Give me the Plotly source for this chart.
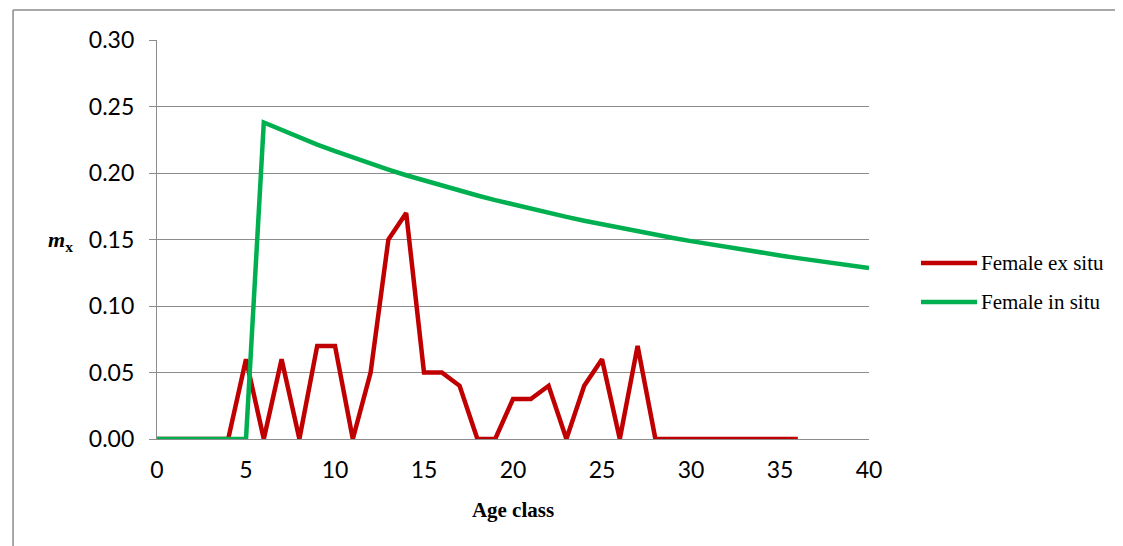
import plotly.graph_objects as go

age_ex = list(range(0, 37))
mx_ex = [0, 0, 0, 0, 0, 0.06, 0, 0.06, 0, 0.07, 0.07, 0, 0.05, 0.15, 0.17,
         0.05, 0.05, 0.04, 0, 0, 0.03, 0.03, 0.04, 0, 0.04, 0.06, 0, 0.07,
         0, 0, 0, 0, 0, 0, 0, 0, 0]

age_in = list(range(0, 41))
mx_in = [0, 0, 0, 0, 0, 0, 0.2380, 0.2322, 0.2267, 0.2214, 0.2164, 0.2116, 0.2070,
         0.2026, 0.1983, 0.1943, 0.1904, 0.1867, 0.1831, 0.1796, 0.1763, 0.1731, 0.1700,
         0.1670, 0.1641, 0.1614, 0.1587, 0.1561, 0.1535, 0.1511, 0.1488, 0.1465, 0.1442,
         0.1421, 0.1400, 0.1380, 0.1360, 0.1341, 0.1322, 0.1304, 0.1286]

series_names = ["Female ex situ", "Female in situ"]
series_colors = ["#C00000", "#00B050"]

y_ticks = [0, 0.05, 0.10, 0.15, 0.20, 0.25, 0.30]
x_ticks = [0, 5, 10, 15, 20, 25, 30, 35, 40]

grid_col = "#8c8c8c"
serif = "Liberation Serif, Times New Roman, serif"
tick_font = dict(family="Lato, Open Sans, sans-serif", size=23, color="#000000")

fig = go.Figure()
fig.add_trace(go.Scatter(x=age_ex, y=mx_ex, mode="lines", name=series_names[0],
                         line=dict(color=series_colors[0], width=4.5)))
fig.add_trace(go.Scatter(x=age_in, y=mx_in, mode="lines", name=series_names[1],
                         line=dict(color=series_colors[1], width=4.5)))

# manual legend (long line samples like the reference)
leg_shapes = []
leg_ann = []
for i, (nm, col) in enumerate(zip(series_names, series_colors)):
    yy = 0.4411 - i * 0.0977
    leg_shapes.append(dict(type="line", xref="paper", yref="paper",
                           x0=1.0730, x1=1.1517, y0=yy, y1=yy,
                           line=dict(color=col, width=4.5)))
    leg_ann.append(dict(text=nm, xref="paper", yref="paper", x=1.1545, y=yy,
                        xanchor="left", yanchor="middle", showarrow=False,
                        font=dict(family=serif, size=21, color="#000")))

fig.update_layout(
    width=1123, height=546,
    margin=dict(l=149, r=262, t=32, b=115),
    plot_bgcolor="white", paper_bgcolor="white",
    showlegend=False,
    xaxis=dict(range=[0, 40], tickmode="array", tickvals=x_ticks,
               ticktext=[str(v) for v in x_ticks],
               showgrid=False, zeroline=False, showline=True, linecolor=grid_col,
               linewidth=1.3, ticks="", tickfont=tick_font, ticklabelstandoff=10,
               title=dict(text="<b>Age class</b>",
                          font=dict(family=serif, size=21, color="#000"),
                          standoff=20)),
    yaxis=dict(range=[0, 0.30], tickmode="array", tickvals=y_ticks,
               ticktext=["%.2f" % v for v in y_ticks],
               showgrid=True, gridcolor=grid_col, gridwidth=1.3, zeroline=False,
               showline=True, linecolor=grid_col, linewidth=1.3,
               ticks="outside", ticklen=7, tickcolor=grid_col, tickwidth=1.3,
               tickfont=tick_font, ticklabelstandoff=10),
    annotations=[dict(text="<b><i>m</i><sub>x</sub></b>", xref="paper", yref="paper",
                      x=-0.1152, y=0.495, xanchor="right", yanchor="middle", showarrow=False,
                      font=dict(family=serif, size=22, color="#000"))] + leg_ann,
    shapes=[
        dict(type="line", xref="paper", yref="paper", x0=-0.2022, x1=-0.2022, y0=-0.35, y1=1.0752,
             line=dict(color="#8c8c8c", width=1.5)),
        dict(type="line", xref="paper", yref="paper", x0=-0.2022, x1=1.45, y0=1.0752, y1=1.0752,
             line=dict(color="#8c8c8c", width=1.5)),
    ] + leg_shapes,
)

fig.write_html("out.html")
